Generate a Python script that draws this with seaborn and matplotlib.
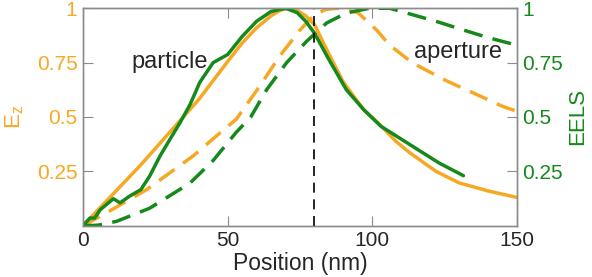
import matplotlib
matplotlib.use("Agg")
import matplotlib.pyplot as plt
import seaborn as sns
import pandas as pd

# Ez, particle (solid orange)
ez_particle_x = [0, 5, 10, 20, 30, 40, 50, 55, 60, 65, 68, 71, 74, 77, 80, 85, 90, 97, 103, 108, 113, 122, 130,
                 140, 150]
ez_particle_y = [0, 0.07, 0.14, 0.28, 0.43, 0.58, 0.755, 0.84, 0.91, 0.965, 0.99, 1.0, 0.99, 0.965, 0.925, 0.79,
                 0.66, 0.534, 0.46, 0.39, 0.335, 0.25, 0.197, 0.16, 0.13]

# EELS, particle (solid green)
eels_particle_x = [0, 2.4, 4, 6, 10.5, 12.8, 16, 20, 23, 26.6, 30, 33.5, 37, 40.4, 45, 50, 55, 60, 65, 70, 74,
                   77, 80, 85, 91, 97, 103, 113, 123, 131.5]
eels_particle_y = [0, 0.035, 0.035, 0.074, 0.124, 0.105, 0.135, 0.166, 0.227, 0.32, 0.396, 0.473, 0.557, 0.66,
                   0.75, 0.787, 0.87, 0.94, 0.985, 1.0, 0.98, 0.94, 0.886, 0.764, 0.626, 0.534, 0.457, 0.373,
                   0.289, 0.23]

# Ez, aperture (dashed orange)
ez_aperture_x = [0, 9, 22, 38, 45, 53, 61, 68, 75, 80, 84, 88, 95, 101.5, 106, 114, 126, 135, 145, 150]
ez_aperture_y = [0, 0.066, 0.166, 0.32, 0.40, 0.49, 0.64, 0.78, 0.90, 0.97, 0.995, 1.0, 0.98, 0.9, 0.83, 0.748,
                 0.664, 0.61, 0.549, 0.526]

# EELS, aperture (dashed green)
eels_aperture_x = [0, 5, 11.6, 23, 37, 45, 53, 58, 63.5, 70.4, 77.3, 84.2, 91, 99, 106, 114, 122, 131.5, 140, 150]
eels_aperture_y = [0, 0.002, 0.02, 0.08, 0.196, 0.30, 0.43, 0.50, 0.626, 0.75, 0.848, 0.932, 0.978, 1.0, 1.0,
                   0.97, 0.94, 0.9, 0.865, 0.83]

x_ticks = [0, 50, 100, 150]
y_ticks = [0.25, 0.5, 0.75, 1]
y_ticklabels = ["0.25", "0.5", "0.75", "1"]
marker_position = 80

ORANGE = "#F7A823"
GREEN = "#15891A"
GRAY = "#8C8C8C"

sns.set_style("white")
plt.rcParams["font.family"] = ["Liberation Sans", "DejaVu Sans"]
plt.rcParams["mathtext.default"] = "regular"

fig = plt.figure(figsize=(5.92, 2.77), dpi=100)
ax = fig.add_axes([0.1402, 0.1852, 0.733, 0.785])
ax2 = ax.twinx()

dash = (0, (5.5, 3))

# Left axis: Ez
sns.lineplot(data=pd.DataFrame({"x": ez_particle_x, "y": ez_particle_y}), x="x", y="y",
             ax=ax, color=ORANGE, lw=2.5)
sns.lineplot(data=pd.DataFrame({"x": ez_aperture_x, "y": ez_aperture_y}), x="x", y="y",
             ax=ax, color=ORANGE, lw=2.5, linestyle=dash)

# Right axis: EELS
sns.lineplot(data=pd.DataFrame({"x": eels_particle_x, "y": eels_particle_y}), x="x", y="y",
             ax=ax2, color=GREEN, lw=2.5)
sns.lineplot(data=pd.DataFrame({"x": eels_aperture_x, "y": eels_aperture_y}), x="x", y="y",
             ax=ax2, color=GREEN, lw=2.5, linestyle=dash)

ax2.axvline(marker_position, color="black", lw=1.2, linestyle=(0, (6, 4)))

for a in (ax, ax2):
    a.set_xlim(0, 150)
    a.set_ylim(0, 1)
    a.set_yticks(y_ticks)
    a.set_yticklabels(y_ticklabels)
    for s in a.spines.values():
        s.set_color(GRAY)
        s.set_linewidth(1.0)
        s.set_visible(True)

ax.set_xticks(x_ticks)
ax.tick_params(axis="x", direction="in", length=7, color=GRAY, labelsize=15, top=True, bottom=True, pad=4)
ax.tick_params(axis="y", direction="in", length=7, color=GRAY, labelsize=15, labelcolor=ORANGE, left=True, pad=4)
ax2.tick_params(axis="y", direction="in", length=7, color=GRAY, labelsize=15, labelcolor=GREEN, right=True, pad=4)

ax.set_xlabel("Position (nm)", fontsize=16.5, labelpad=1)
ax.set_ylabel("E$_z$", fontsize=16, color=ORANGE, labelpad=8)
ax2.set_ylabel("EELS", fontsize=16, color=GREEN, labelpad=3)

ax2.text(16.6, 0.755, "particle", fontsize=17, ha="left", va="center")
ax2.text(114.5, 0.80, "aperture", fontsize=17, ha="left", va="center")

fig.savefig("out.png", dpi=100)
